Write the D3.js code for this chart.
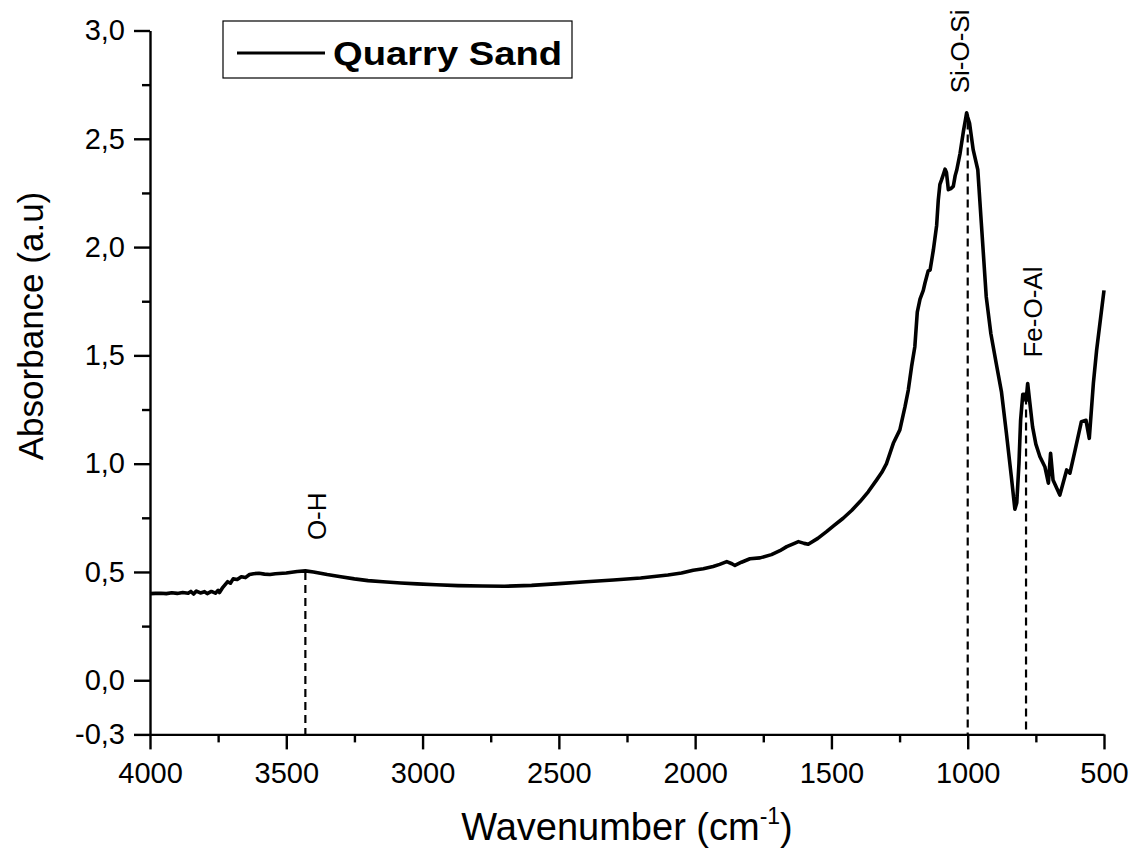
<!DOCTYPE html>
<html>
<head>
<meta charset="utf-8">
<script src="https://cdn.jsdelivr.net/npm/d3@7"></script>
<style>
  html, body { margin: 0; padding: 0; background: #fff; }
  svg { display: block; }
  text { font-family: Arial, "Liberation Sans", sans-serif; fill: #000; }
</style>
</head>
<body>
<svg id="chart" width="1138" height="863"></svg>
<script>
// ---- Data ----
const wavenumber = [
  4000, 3980, 3960, 3940, 3920, 3900, 3880, 3860, 3850, 3840, 3830, 3815, 3800, 3790, 3775, 3760,
  3750, 3745, 3735, 3725, 3715, 3705, 3695, 3680, 3665, 3650, 3635, 3620, 3600, 3580, 3560, 3540,
  3500, 3460, 3430, 3400, 3350, 3300, 3250, 3200, 3145, 3080, 3020, 2950, 2870, 2780, 2700, 2600,
  2500, 2400, 2300, 2200, 2100, 2050, 2007, 1970, 1934, 1910, 1884, 1865, 1854, 1830, 1799, 1762,
  1720, 1689, 1664, 1640, 1621, 1600, 1585, 1550, 1518, 1490, 1457, 1425, 1395, 1365, 1334, 1315,
  1298, 1273, 1249, 1230, 1218, 1206, 1194, 1185, 1175, 1163, 1157, 1145, 1138, 1126, 1114, 1108,
  1102, 1096, 1088, 1083, 1078, 1071, 1062, 1053, 1046, 1040, 1028, 1016, 1008, 1004, 1000, 993,
  980, 963, 950, 932, 915, 895, 876, 858, 840, 827, 820, 812, 806, 798, 792, 786,
  780, 772, 762, 750, 735, 717, 704, 696, 687, 662, 637, 625, 606, 583, 566, 554,
  539, 527, 500
];
const absorbance = [
  0.400, 0.401, 0.402, 0.400, 0.404, 0.401, 0.405, 0.402, 0.410, 0.398, 0.412, 0.403, 0.409, 0.400, 0.410, 0.402,
  0.415, 0.405, 0.425, 0.440, 0.455, 0.448, 0.468, 0.465, 0.478, 0.474, 0.488, 0.492, 0.494, 0.490, 0.488, 0.492,
  0.495, 0.502, 0.505, 0.500, 0.488, 0.478, 0.468, 0.460, 0.455, 0.449, 0.445, 0.441, 0.437, 0.435, 0.434, 0.438,
  0.446, 0.455, 0.463, 0.472, 0.486, 0.495, 0.508, 0.515, 0.525, 0.535, 0.548, 0.538, 0.530, 0.545, 0.561, 0.565,
  0.580, 0.598, 0.617, 0.630, 0.640, 0.632, 0.628, 0.655, 0.686, 0.715, 0.748, 0.785, 0.825, 0.870, 0.925, 0.960,
  1.000, 1.094, 1.156, 1.263, 1.340, 1.448, 1.540, 1.700, 1.760, 1.800, 1.833, 1.890, 1.894, 1.987, 2.100, 2.217,
  2.290, 2.310, 2.340, 2.360, 2.345, 2.265, 2.270, 2.280, 2.330, 2.357, 2.433, 2.533, 2.590, 2.620, 2.600, 2.570,
  2.450, 2.357, 2.110, 1.770, 1.600, 1.460, 1.330, 1.140, 0.940, 0.790, 0.820, 1.000, 1.200, 1.320, 1.320, 1.290,
  1.370, 1.280, 1.170, 1.090, 1.032, 0.986, 0.910, 1.048, 0.925, 0.855, 0.971, 0.956, 1.063, 1.194, 1.200, 1.117,
  1.371, 1.525, 1.800
];
const seriesName = "Quarry Sand";

const xTickValues = [4000, 3500, 3000, 2500, 2000, 1500, 1000, 500];
const xTickLabels = ["4000", "3500", "3000", "2500", "2000", "1500", "1000", "500"];
const xMinorTicks = [3750, 3250, 2750, 2250, 1750, 1250, 750];
const yTickValues = [-0.25, 0, 0.5, 1.0, 1.5, 2.0, 2.5, 3.0];
const yTickLabels = ["-0,3", "0,0", "0,5", "1,0", "1,5", "2,0", "2,5", "3,0"];
const yMinorTicks = [0.25, 0.75, 1.25, 1.75, 2.25, 2.75];

const peakPositions = [3430, 1000, 786];
const peakTops = [0.50, 2.58, 1.31];
const peakLabels = ["O-H", "Si-O-Si", "Fe-O-Al"];
const peakLabelStart = [0.647, 2.71, 1.49];

// ---- Layout ----
const peakLabelDx = [21, 1, 16];
const svg = d3.select("#chart");
const x = d3.scaleLinear().domain([4000, 500]).range([150, 1104]);
const y = d3.scaleLinear().domain([-0.25, 3.0]).range([734.4, 30.5]);
const fontTick = 29;

// Curve
const pts = wavenumber.map((w, i) => [w, absorbance[i]]);
const line = d3.line().x(d => x(d[0])).y(d => y(d[1])).curve(d3.curveLinear);

// Dashed peak markers
svg.append("g").selectAll("line").data(peakPositions).join("line")
  .attr("x1", d => x(d)).attr("x2", d => x(d))
  .attr("y1", (d, i) => y(peakTops[i]))
  .attr("y2", y(-0.25))
  .attr("stroke", "#000").attr("stroke-width", 2.2)
  .attr("stroke-dasharray", "8,5");

svg.append("path").datum(pts)
  .attr("d", line)
  .attr("fill", "none")
  .attr("stroke", "#000")
  .attr("stroke-width", 3.6)
  .attr("stroke-linejoin", "round");

// Peak labels
svg.append("g").selectAll("text").data(peakLabels).join("text")
  .attr("transform", (d, i) => `translate(${x(peakPositions[i]) + peakLabelDx[i]},${y(peakLabelStart[i])}) rotate(-90)`)
  .attr("font-size", 26)
  .attr("text-anchor", "start")
  .text(d => d);

// Axes
function styleAxis(g) {
  g.selectAll(".domain").attr("stroke", "#000").attr("stroke-width", 2.4);
  g.selectAll(".tick line").attr("stroke", "#000").attr("stroke-width", 2.4);
  g.selectAll(".tick text").attr("font-size", fontTick).attr("fill", "#000")
    .attr("font-family", "Arial, 'Liberation Sans', sans-serif");
}

const xAxis = d3.axisBottom(x).tickValues(xTickValues)
  .tickFormat((d, i) => xTickLabels[i]).tickSize(15).tickSizeOuter(0).tickPadding(13);
svg.append("g").attr("transform", `translate(0,${y(-0.25)})`).call(xAxis).call(styleAxis);

const xMinor = d3.axisBottom(x).tickValues(xMinorTicks).tickFormat("").tickSize(8).tickSizeOuter(0);
svg.append("g").attr("transform", `translate(0,${y(-0.25)})`).call(xMinor).call(styleAxis)
  .select(".domain").remove();

const yAxis = d3.axisLeft(y).tickValues(yTickValues)
  .tickFormat((d, i) => yTickLabels[i]).tickSize(16).tickSizeOuter(0).tickPadding(9);
svg.append("g").attr("transform", `translate(${x(4000)},0)`).call(yAxis).call(styleAxis);

const yMinor = d3.axisLeft(y).tickValues(yMinorTicks).tickFormat("").tickSize(8).tickSizeOuter(0);
svg.append("g").attr("transform", `translate(${x(4000)},0)`).call(yMinor).call(styleAxis)
  .select(".domain").remove();

// Axis titles
const xt = svg.append("text")
  .attr("x", 627).attr("y", 840)
  .attr("text-anchor", "middle")
  .attr("font-size", 38);
xt.append("tspan").text("Wavenumber (cm");
xt.append("tspan").attr("font-size", 23).attr("dy", -16).text("-1");
xt.append("tspan").attr("dy", 16).text(")");

svg.append("text")
  .attr("transform", "translate(43,326) rotate(-90)")
  .attr("text-anchor", "middle")
  .attr("font-size", 35)
  .text("Absorbance (a.u)");

// Legend
const lg = svg.append("g");
lg.append("rect").attr("x", 223).attr("y", 21).attr("width", 349).attr("height", 57)
  .attr("fill", "#fff").attr("stroke", "#000").attr("stroke-width", 1.2);
lg.append("line").attr("x1", 237).attr("x2", 325).attr("y1", 53).attr("y2", 53)
  .attr("stroke", "#000").attr("stroke-width", 3.2);
lg.append("text").attr("x", 333).attr("y", 65)
  .attr("font-size", 33).attr("font-weight", "bold")
  .attr("textLength", 229).attr("lengthAdjust", "spacingAndGlyphs")
  .text(seriesName);
</script>
</body>
</html>
